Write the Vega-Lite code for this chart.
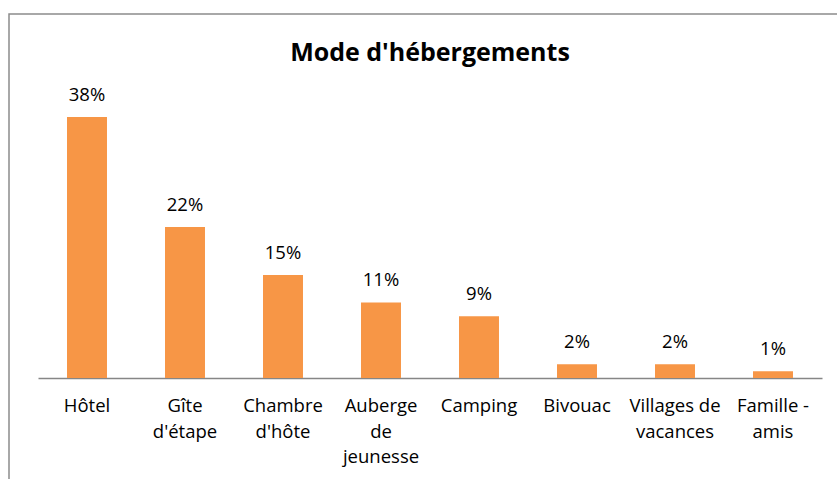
{
  "$schema": "https://vega.github.io/schema/vega-lite/v6.json",
  "autosize": "none",
  "padding": {"left": 9, "top": 14, "right": 0, "bottom": 0},
  "width": 842,
  "height": 476,
  "background": "white",
  "title": {
    "text": "Mode d'hébergements",
    "font": "Open Sans",
    "fontSize": 25,
    "fontWeight": "bold",
    "color": "black",
    "anchor": "middle",
    "offset": -52
  },
  "data": {
    "values": [
      {"cat": "Hôtel", "value": 0.38},
      {"cat": "Gîte|d'étape", "value": 0.22},
      {"cat": "Chambre|d'hôte", "value": 0.15},
      {"cat": "Auberge|de|jeunesse", "value": 0.11},
      {"cat": "Camping", "value": 0.09},
      {"cat": "Bivouac", "value": 0.02},
      {"cat": "Villages de|vacances", "value": 0.02},
      {"cat": "Famille -|amis", "value": 0.01}
    ]
  },
  "encoding": {
    "x": {
      "field": "cat",
      "type": "nominal",
      "sort": null,
      "scale": {"range": [29, 813], "paddingInner": 0.592, "paddingOuter": 0.296},
      "axis": {
        "title": null,
        "orient": "bottom",
        "offset": -112,
        "ticks": false,
        "labelAngle": 0,
        "labelExpr": "split(datum.value, '|')",
        "labelFont": "Open Sans",
        "labelFontSize": 18.5,
        "labelColor": "black",
        "labelLineHeight": 25.5,
        "labelPadding": 18.5,
        "labelLimit": 0,
        "domainColor": "#868686",
        "domainWidth": 1.5,
        "grid": false
      }
    },
    "y": {
      "field": "value",
      "type": "quantitative",
      "scale": {"domain": [0, 0.53], "range": [364, 0], "nice": false, "zero": true},
      "axis": null
    }
  },
  "layer": [
    {"mark": {"type": "bar", "color": "#F79646"}},
    {
      "mark": {"type": "text", "baseline": "bottom", "dy": -12, "font": "Open Sans", "fontSize": 18.5, "color": "black"},
      "encoding": {"text": {"field": "value", "type": "quantitative", "format": ".0%"}}
    }
  ],
  "config": {
    "view": {"stroke": "#8c8c8c", "strokeWidth": 1.5}
  }
}
